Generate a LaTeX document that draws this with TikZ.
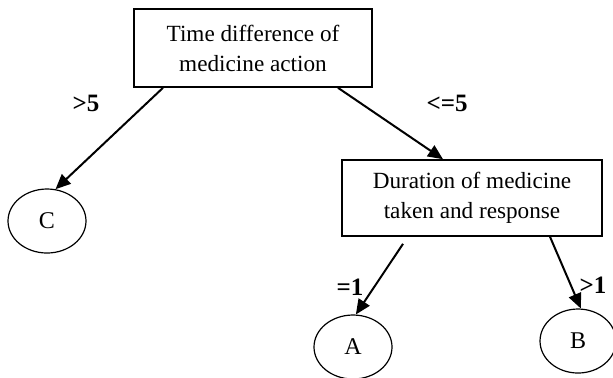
\documentclass[tikz,border=0pt]{standalone}
\usepackage{fontspec}
\setmainfont{Liberation Serif}
\usetikzlibrary{positioning,calc,arrows.meta,shapes.geometric}

\begin{document}
\begin{tikzpicture}[x=0.5pt, y=-0.5pt, thick,
                    box node/.style={rectangle,draw,line width=0.8pt,align=center,
                                     font=\fontsize{11.6}{15}\selectfont},
                    leaf node/.style={ellipse,draw,line width=0.6pt,inner sep=0pt,
                                      minimum width=39pt,minimum height=32pt,
                                      font=\fontsize{12}{14}\selectfont},
                    branch label/.style={font=\fontsize{12.5}{14}\selectfont\bfseries}]

  \useasboundingbox (0,0) rectangle (613,377);

  \node[box node, minimum width=119pt, minimum height=39pt] (time) at (253,48)
    {Time difference of\\medicine action};
  \node[box node, minimum width=130pt, minimum height=38pt] (duration) at (472,198)
    {Duration of medicine\\taken and response};
  \node[leaf node] (C) at (47,221) {C};
  \node[leaf node] (A) at (353,347) {A};
  \node[leaf node, minimum width=38pt] (B) at (578,341) {B};

  \path[-{Triangle[length=7.5pt,width=6.5pt]}, line width=1pt]
    ($(time.south)+(-90,0)$) edge (C.75)
    ($(time.south)+(85,0)$) edge ($(duration.north)+(-29,0)$)
    ($(duration.south)+(-69,7)$) edge (A.85)
    ($(duration.south)+(78,0)$) edge (B.85)
;

  \node[branch label] (gt5) at (86,103) {>5};
  \node[branch label] (le5) at (447,103) {<=5};
  \node[branch label] (eq1) at (350,287) {=1};
  \node[branch label] (gt1) at (593,285) {>1};
\end{tikzpicture}
\end{document}
